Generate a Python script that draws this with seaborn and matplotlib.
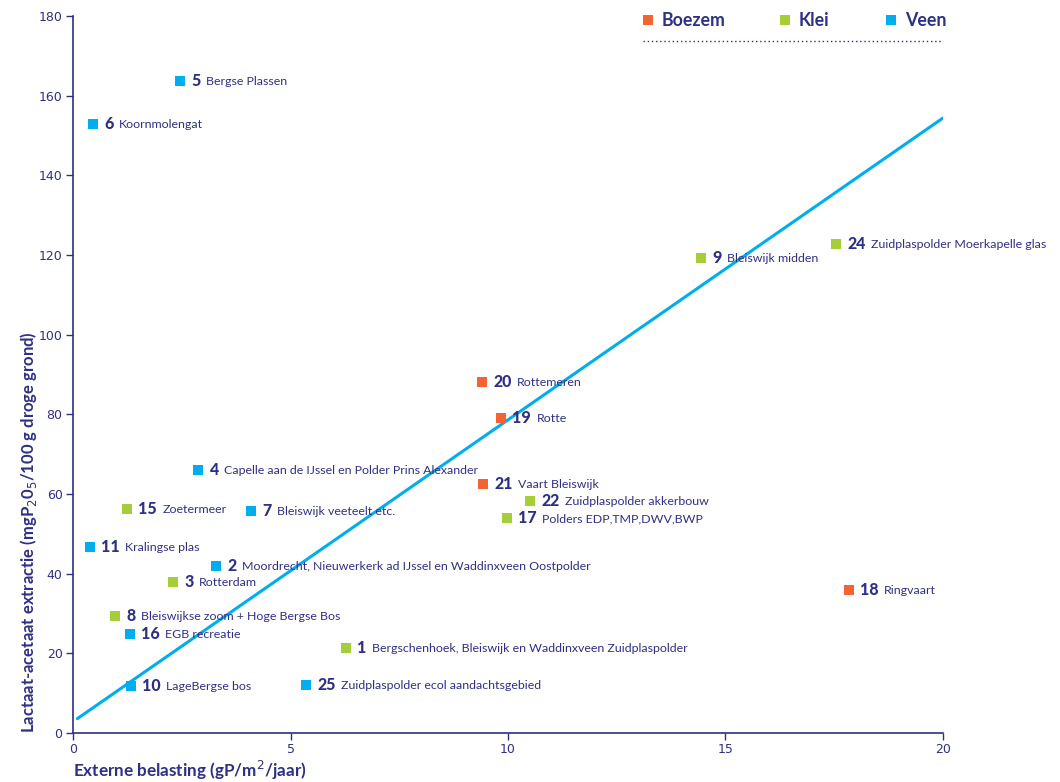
import pandas as pd
import seaborn as sns
import matplotlib.pyplot as plt

# Data
ids = ['5', '6', '9', '24', '20', '19', '4', '21', '22', '17', '15', '7',
       '11', '2', '3', '18', '8', '16', '1', '10', '25']
names = ['Bergse Plassen', 'Koornmolengat', 'Bleiswijk midden',
         'Zuidplaspolder Moerkapelle glas', 'Rottemeren', 'Rotte',
         'Capelle aan de IJssel en Polder Prins Alexander', 'Vaart Bleiswijk',
         'Zuidplaspolder akkerbouw', 'Polders EDP,TMP,DWV,BWP', 'Zoetermeer',
         'Bleiswijk veeteelt etc.', 'Kralingse plas',
         'Moordrecht, Nieuwerkerk ad IJssel en Waddinxveen Oostpolder',
         'Rotterdam', 'Ringvaart', 'Bleiswijkse zoom + Hoge Bergse Bos',
         'EGB recreatie', 'Bergschenhoek, Bleiswijk en Waddinxveen Zuidplaspolder',
         'LageBergse bos', 'Zuidplaspolder ecol aandachtsgebied']
soil = ['Veen', 'Veen', 'Klei', 'Klei', 'Boezem', 'Boezem', 'Veen', 'Boezem',
        'Klei', 'Klei', 'Klei', 'Veen', 'Veen', 'Veen', 'Klei', 'Boezem',
        'Klei', 'Veen', 'Klei', 'Veen', 'Veen']
belasting = [2.46, 0.46, 14.44, 17.54, 9.40, 9.84, 2.87, 9.43, 10.51, 9.98,
             1.24, 4.09, 0.39, 3.29, 2.30, 17.84, 0.97, 1.31, 6.28, 1.33, 5.36]
extractie = [163.7, 152.9, 119.3, 122.8, 88.1, 79.1, 66.0, 62.5, 58.2, 54.0,
             56.2, 55.7, 46.7, 41.9, 37.9, 35.9, 29.4, 24.9, 21.3, 11.8, 12.1]

# regression line (end points)
line_x = [0.1, 20]
line_y = [3.6, 154.4]

categories = ['Boezem', 'Klei', 'Veen']
colors = {'Boezem': '#f26532', 'Klei': '#a6ce39', 'Veen': '#00aeef'}
navy = '#2e3085'

df = pd.DataFrame({'id': ids, 'name': names, 'soil': soil,
                   'x': belasting, 'y': extractie})
line_df = pd.DataFrame({'x': line_x, 'y': line_y})

sns.set_style('white')
plt.rcParams['font.family'] = ['Lato', 'DejaVu Sans']

fig = plt.figure(figsize=(10.6, 7.82), dpi=100)
ax = fig.add_axes([0.0689, 0.0627, 0.8207, 0.9168])

sns.lineplot(data=line_df, x='x', y='y', color='#00aeef', linewidth=2.2, ax=ax)
sns.scatterplot(data=df, x='x', y='y', hue='soil', palette=colors, marker='s',
                s=55, linewidth=0, legend=False, ax=ax, zorder=3)

# point labels: bold number followed by name
for _, r in df.iterrows():
    num = ax.annotate(r['id'], xy=(r['x'], r['y']), xytext=(8, 0),
                      textcoords='offset points', ha='left', va='center',
                      fontsize=11.5, fontweight='black', color=navy,
                      annotation_clip=False)
    ax.annotate(r['name'], xy=(1, 0.5), xycoords=num, xytext=(4, -0.5),
                textcoords='offset points', ha='left', va='center',
                fontsize=8.9, color=navy, annotation_clip=False)

ax.set_xlim(0, 20)
ax.set_ylim(0, 180)
ax.set_xticks([0, 5, 10, 15, 20])
ax.set_yticks(range(0, 181, 20))

for s in ['top', 'right']:
    ax.spines[s].set_visible(False)
for s in ['left', 'bottom']:
    ax.spines[s].set_color(navy)
    ax.spines[s].set_linewidth(1.2)
ax.tick_params(axis='both', direction='out', length=5, width=1, color=navy,
               labelcolor=navy, labelsize=9, left=True, bottom=True, pad=2.5)
for lab in ax.get_xticklabels() + ax.get_yticklabels():
    lab.set_fontfamily('DejaVu Sans')

ax.set_xlabel('Externe belasting (gP/m$^2$/jaar)', loc='left', fontsize=12.3,
              fontweight='bold', color=navy, labelpad=2)
ax.set_ylabel('Lactaat-acetaat extractie (mgP$_2$0$_5$/100 g droge grond)',
              loc='bottom', fontsize=12, fontweight='bold', color=navy,
              labelpad=0)

# legend at top right
leg_marker_x = [0.661, 0.818, 0.940]
for cat, lx in zip(categories, leg_marker_x):
    ax.scatter([lx], [0.9944], transform=ax.transAxes, marker='s', s=55,
               color=colors[cat], linewidth=0, clip_on=False)
    ax.text(lx + 0.016, 0.9944, cat, transform=ax.transAxes, ha='left',
            va='center', fontsize=12.8, fontweight='bold', color=navy)
ax.plot([0.655, 1.0], [0.965, 0.965], transform=ax.transAxes, color=navy,
        linestyle=(0, (1, 2)), linewidth=1, clip_on=False)

fig.savefig('out.png', dpi=100)
